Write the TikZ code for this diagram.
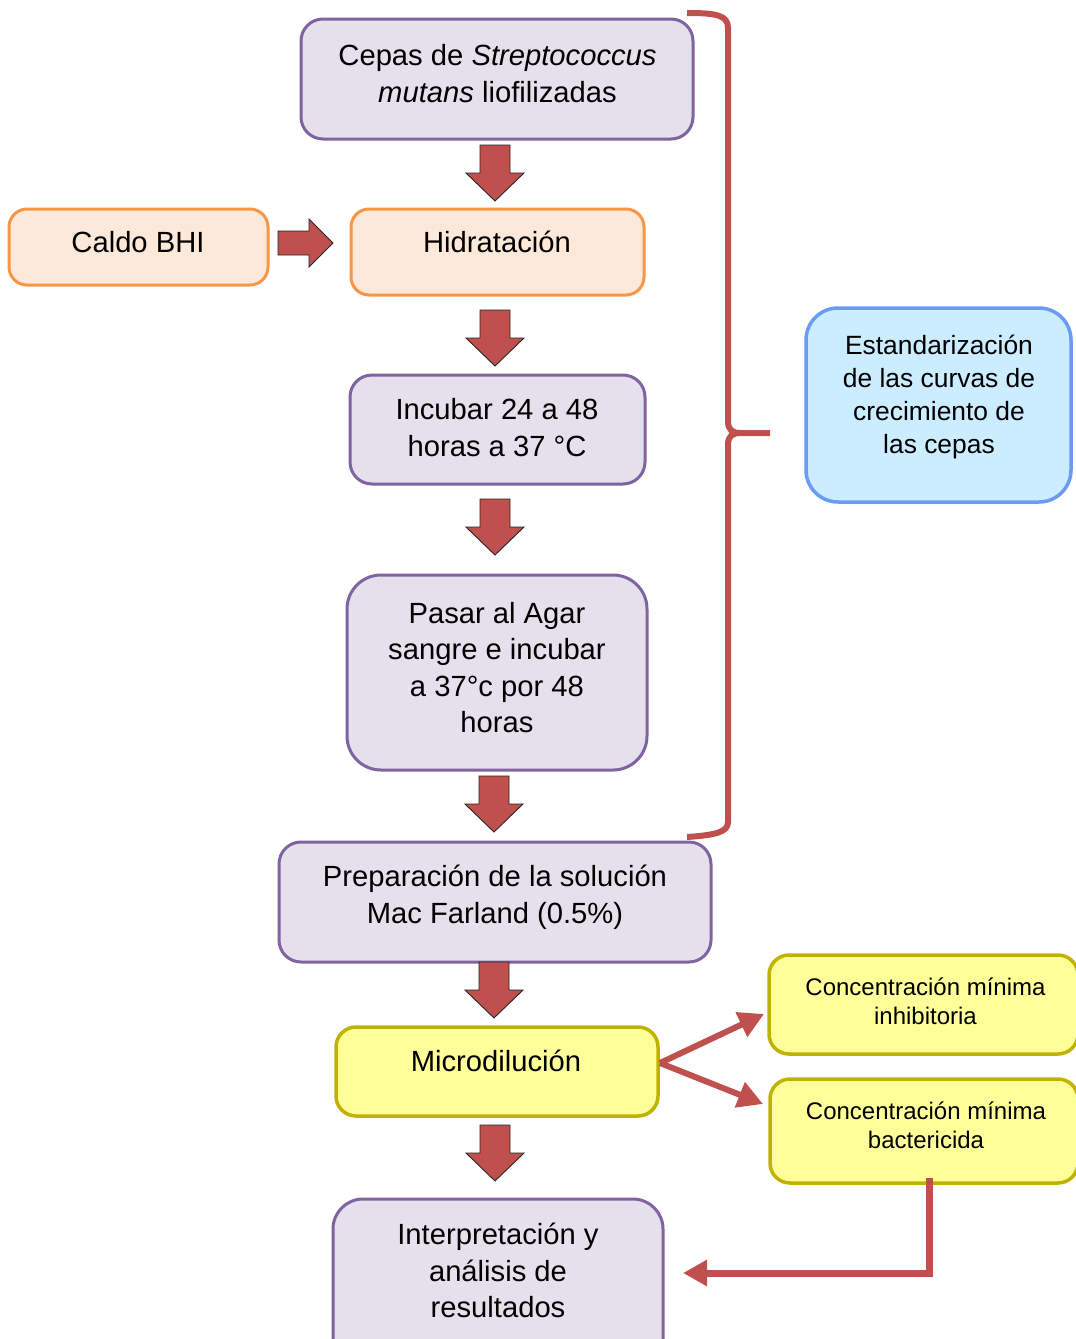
\documentclass[tikz,border=0pt]{standalone}
\usepackage{fontspec}
\setmainfont{Liberation Sans}
\usetikzlibrary{arrows.meta}

\definecolor{flowred}{HTML}{C0504D}
\definecolor{lilacfill}{HTML}{E5E0EC}
\definecolor{lilacline}{HTML}{8064A2}
\definecolor{peachfill}{HTML}{FDE9D9}
\definecolor{peachline}{HTML}{F79646}
\definecolor{skyfill}{HTML}{CCECFF}
\definecolor{skyline}{HTML}{6A9CF6}
\definecolor{lemonfill}{HTML}{FFFF99}
\definecolor{lemonline}{HTML}{BFB300}

\tikzset{
  x=1pt, y=-1pt,
  basebox/.style={rectangle, inner sep=0pt, line width=3pt},
  lilacbox/.style={basebox, draw=lilacline, fill=lilacfill, rounded corners=22pt},
  peachbox/.style={basebox, draw=peachline, fill=peachfill, rounded corners=18pt},
  skybox/.style={basebox, draw=skyline, fill=skyfill, line width=3.5pt, rounded corners=32pt},
  lemonbox/.style={basebox, draw=lemonline, fill=lemonfill, line width=3.5pt, rounded corners=20pt},
  bigtxt/.style={align=center, inner sep=0pt, font=\fontsize{29.2}{36.5}\selectfont},
  midtxt/.style={align=center, inner sep=0pt, font=\fontsize{26.4}{33}\selectfont},
  smalltxt/.style={align=center, inner sep=0pt, font=\fontsize{24}{29}\selectfont},
  blockarrow/.style={fill=flowred, draw=black!85, line width=0.9pt, line join=miter},
  downblock/.pic={
    \draw[blockarrow] (-15,0) -- (15,0) -- (15,28) -- (29,28) -- (0,56)
      -- (-29,28) -- (-15,28) -- cycle;
  },
  rightblock/.pic={
    \draw[blockarrow] (0,-12) -- (31,-12) -- (31,-24) -- (55,0) -- (31,24)
      -- (31,12) -- (0,12) -- cycle;
  },
  thinlink/.style={draw=flowred, line width=6pt,
    -{Triangle[length=25pt, width=26pt]}},
  bracestroke/.style={draw=flowred, line width=6pt, line cap=butt, line join=round},
}

\begin{document}
\begin{tikzpicture}
\useasboundingbox (0,0) rectangle (1076,1339);

% main column of steps
\node[lilacbox, minimum width=392pt, minimum height=120pt] (cepas) at (497,79) {};
\node[bigtxt] (cepasT) at (497.5,73.5) {Cepas de \textit{Streptococcus}\\\textit{mutans} liofilizadas};

\node[peachbox, minimum width=259pt, minimum height=76pt] (caldo) at (138.5,247) {};
\node[bigtxt] (caldoT) at (138,242) {Caldo BHI};

\node[peachbox, minimum width=293pt, minimum height=86pt] (hidr) at (497.5,252) {};
\node[bigtxt] (hidrT) at (497,242) {Hidratación};

\node[lilacbox, minimum width=295pt, minimum height=109pt] (incub) at (497.5,429.5) {};
\node[bigtxt] (incubT) at (497,427.5) {Incubar 24 a 48\\horas a 37 °C};

\node[lilacbox, minimum width=300pt, minimum height=195pt, rounded corners=34pt] (pasar) at (497,672.5) {};
\node[bigtxt] (pasarT) at (497,667.5) {Pasar al Agar\\sangre e incubar\\a 37°c por 48\\horas};

\node[lilacbox, minimum width=432pt, minimum height=120pt] (prep) at (495,902) {};
\node[bigtxt] (prepT) at (495,897.5) {Preparación de la solución\\Mac Farland (0.5\%)};

\node[lemonbox, minimum width=322pt, minimum height=89pt] (micro) at (497,1071.5) {};
\node[bigtxt] (microT) at (496,1061) {Microdilución};

\node[lilacbox, minimum width=330pt, minimum height=170pt, rounded corners=30pt] (interp) at (498,1284) {};
\node[bigtxt] (interpT) at (498,1270.5) {Interpretación y\\análisis de\\resultados};

% side boxes
\node[skybox, minimum width=265pt, minimum height=194pt] (estand) at (938.5,405) {};
\node[midtxt] (estandT) at (939,397.5) {Estandarización\\de las curvas de\\crecimiento de\\las cepas};

\node[lemonbox, minimum width=309pt, minimum height=99pt] (cmi) at (923.5,1004.5) {};
\node[smalltxt] (cmiT) at (925.5,1001) {Concentración mínima\\inhibitoria};

\node[lemonbox, minimum width=308pt, minimum height=104pt] (cmb) at (924,1131) {};
\node[smalltxt] (cmbT) at (926,1125) {Concentración mínima\\bactericida};

% block arrows between the steps
\pic at (495,145) {downblock};
\pic at (495,310) {downblock};
\pic at (495,499) {downblock};
\pic at (494,776) {downblock};
\pic at (494,962) {downblock};
\pic at (495,1125) {downblock};
\pic at (278,243) {rightblock};

% brace grouping the first steps
\draw[bracestroke] (687,13) .. controls (716,13) and (728,15) .. (728,28)
  -- (728,421) .. controls (728,430) and (732,433) .. (741,433) -- (770,433);
\draw[bracestroke] (741,433) .. controls (732,433) and (728,436) .. (728,445)
  -- (728,822) .. controls (728,832) and (716,835) .. (687,837);

% links from the microdilution step
\coordinate (microOut) at (660,1063);
\coordinate (cmiIn) at (764,1014);
\coordinate (cmbIn) at (763,1104);
\draw[thinlink] (microOut) -- (cmiIn);
\draw[thinlink] (microOut) -- (cmbIn);

% return link to the interpretation step
\coordinate (cmbOut) at (929,1178);
\coordinate (interpIn) at (683,1273);
\draw[draw=flowred, line width=7pt, line join=miter,
  -{Triangle[length=24pt, width=25pt]}] (cmbOut) |- (interpIn);
\end{tikzpicture}
\end{document}
